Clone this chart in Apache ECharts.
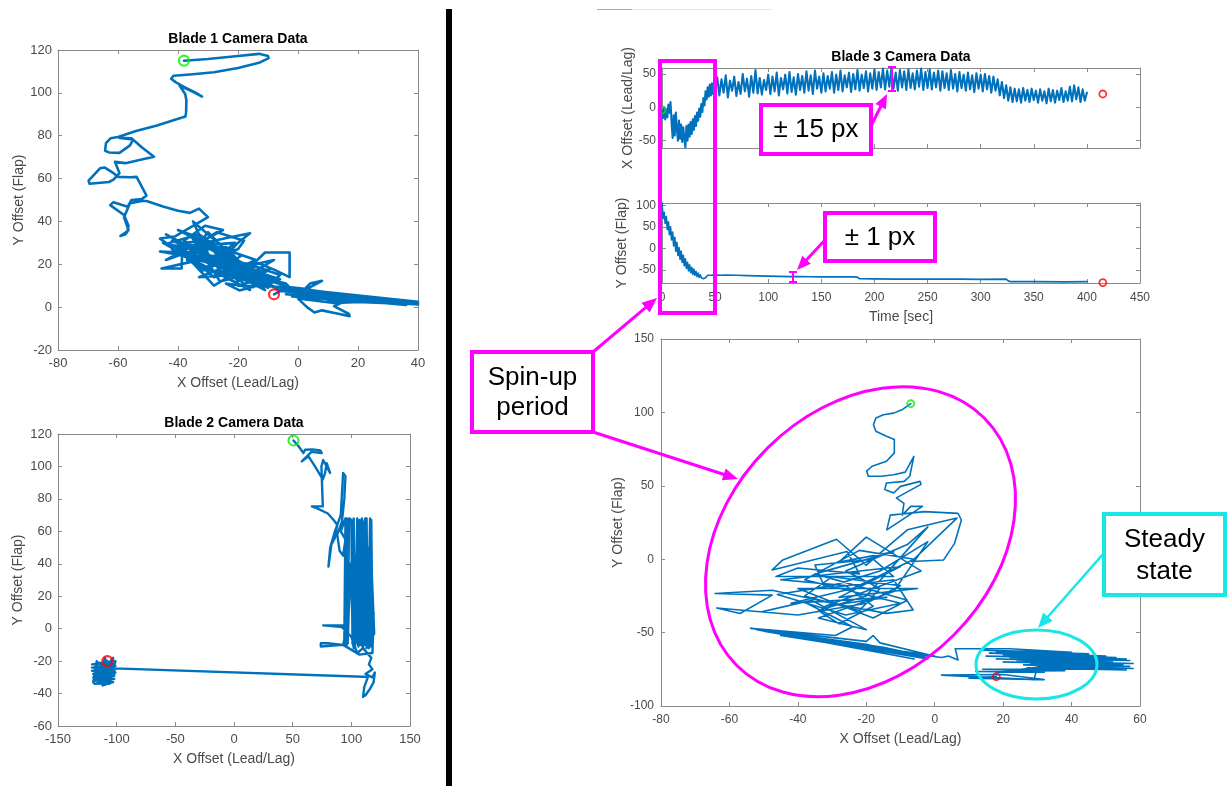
<!DOCTYPE html>
<html>
<head>
<meta charset="utf-8">
<title>Blade camera data</title>
<script src="https://cdn.jsdelivr.net/npm/echarts@6.0.0/dist/echarts.min.js"></script>
<style>
  body { margin: 0; background: #fff; }
  #main { width: 1228px; height: 786px; }
</style>
</head>
<body>
<div id="main"></div>
<script>
// ---------- data ----------
// Blade 1: [lead/lag, flap]
const blade1Path = [
  [-38,115],[-30,115.8],[-20,117.2],[-13,118.2],[-10,117.2],[-9.8,116.2],[-13,114],[-20,111.6],[-28,109.6],[-36,108.6],
  [-41.5,108],[-42.3,106.6],[-40.8,105],[-38,102.8],[-34,100],[-32,98.3],[-35,100.5],[-39.5,103.4],[-37.6,99.5],[-37.2,96.5],
  [-37.3,91],[-37.5,89],[-41,87.5],[-47,84.8],[-54,82.2],[-60,79.4],[-62.5,78.8],[-64,76.5],[-64.3,73],[-63,72.2],
  [-59.5,72],[-56,75.5],[-55,78.2],[-59.5,79],[-55.5,78.8],[-52,74.5],[-48,70.2],[-52.5,68.8],[-57.5,67.2],[-61,67.8],
  [-59.5,62.5],[-61.5,59.5],[-63,58.4],[-69.5,57.6],[-69.8,59],[-66,64.8],[-64.5,65.2],[-61.5,62.5],[-60,60.8],[-56,60.6],
  [-53.8,60.8],[-50.5,52],[-52,50.5],[-55.5,50],[-56.8,46.8],[-61.5,49],[-62.6,47.6],[-58,43],[-56.5,38],[-56.8,35.5],
  [-59.2,33.2],[-57.5,34],[-56.5,36],[-58,42],[-56,48.5],[-52,49.6],[-50.5,49.5],[-45,47],[-40,45],
  [-36,44],[-33,46],[-30,42],[-41,33],[-46,32],[-43,29],[-35,28],[-27,35],[-18,31],[-20,27],
  [-36,21],[-45.5,18],[-38.8,18],[-38.5,30],[-30,31],[-22,23],[-33,34],[-44,29.5],[-40,26],[-28,22],
  [-15,20],[-11,25.5],[-2.8,25.5],[-2.8,14],[-8,17.5],[-15,21.5],[-21.5,17],[-28,14],[-33,20],[-41.5,26.5],
  [-33,29.5],[-23,32.5],[-16,34.5],[-20,30],[-27,20],[-32,17],[-36,26],[-24,28],[-19,24],[-25,18],
  [-30,23],[-38,31],[-31,38],[-25,36],[-44,22],[-28,30],[-40,36],[-20,22],[-35,40],[-30,25],
  [-46,26],[-22,20],[-33,14],[-12,16],[-26,26],[-42,31],[-18,18],[-30,35],[-37,22],[-24,14],
  [-35,32],[-14,22],[-28,10],[-40,28],[-21,30],[-31,18],[-16,12],[-9,18],[-26,12],[-36,34],
  [-22,25],[-11,8],[-33,24],[-17,15],[-45,30],[-27,16],[-8,22],[-20,12],[-29,28],[-14,10],
  [-44,34],[-10,9],[-40,30],[-6,8],[-36,33],[-12,12],[-42,27],[-8,12],[-30,28],[-4,10],
  [-38,24],[-16,8],[-26,22],[-6,13],
  [-19.5,7.8],[-24,11],[-15,9.3],[-10.6,13.2],[-4,11],[-1.7,7.6],[-10,10],[-17,12],[-22,16],[-14,19],
  [-6,15],[-9,11],[-13,13],[-20,10],[-4,9.5],[3,8.5],[8,12.3],[4,11],[2,8],[10,6],
  [25,3.5],[40,2],[15,5],[38,1.6],[2,7],[30,3],[-4,8.2],[22,4],[40,1.5],[16,3],
  [12,0.5],[17,-3.2],[17.2,-4.2],[13,-3],[8,-1.5],[5.5,-2.5],[3,0],[0,4],[12,2],[28,2.8],
  [40,1.8],[20,3.5],[5,5.5],[35,2.2],[-2,7],[36,2],[5,6],[40,1.5],[8,4],[25,2.5],
  [0,6],[38,2],[-6,9],[34,2.5],[4,8],[40,1.2],[-2,5],[30,1.8],[10,3],[40,2.5],
  [6,7.5],[24,3.2],[-4,6],[36,1],[12,5.5],[40,2],[-6,7.5],[-8,6]
];
const blade1Start = [-38, 115];
const blade1End = [-8, 6];

// Blade 2: [lead/lag, flap]
const blade2Path = [
  [50.7,116],[55,112.4],[59.2,108.3],[60.6,110.3],[67,110.5],[73.4,109.9],[74.8,108.3],[66,109],[57.8,103.1],[63.5,106.2],
  [69,100],[75.7,92],[77.6,95.9],[79,102],[81.9,96],[76,104],[74.5,100],[75.7,75.4],[66.3,75.4],[70,74.5],
  [80,71],[84.7,67.1],[88,64],[86,56],[83,52],[81.9,52.7],[80.5,38.3],[82,50],[86,60],[91,70],
  [93,96],[95,94],[94,80],[92,66],[88,58],[90,48],[93,45],[95,55],[91,60],[95,68],
  [94,68],[94,-10],[96,-10],[96,68],[97,68],[97,-9],[98,-10],[98,68],[100,67],[101,-9],
  [102,-11],[102,68],[103,68],[103,-11],[105,68],[104,-6],[106,-11],[107,67],[108,68],[107,-10],
  [109,68],[108,-8],[110,-12],[111,66],[112,68],[112,-10],[113,-9],[113,68],[114,68],[114,-9],
  [116,68],[115,-7],[117,-11],[117,67],[118.5,66],[118,-5],[119.5,-3],[116,60],[113,-12],[111,55],
  [108,-10],[106,62],[102,-12],[99,40],[97,-8],[95,30],[100,20],[104,45],[101,10],[108,58],
  [110,20],[114,50],[112,0],[117,30],[115,-12],[119,10],[118,-15],[107,-16],[93,-10],[80,-9],
  [74,-9],[74,-11],[75,-10],[93,-10],[97,2],[90,2],[76,2],[92,1],[100,-5],[105,-15],
  [110,-12],[117,-18],[115,-22],[118,-25],[112,-28],[118,-30],[120,-27],[119,-33],[116,-37],[112,-41],
  [110,-42],[111,-36],[114,-30],[110,-29.6],[-102,-24.5],[-106,-24],
  [-121,-24],[-101,-23],[-121,-26],[-101,-25],[-120,-28],[-101,-27],[-120,-30],[-102,-29],[-119,-32],[-102,-31],
  [-119,-34],[-103,-33],[-112,-35],[-110,-18],[-115,-34],[-117,-20],[-120,-33],[-103,-18],[-106,-34],[-101,-20],
  [-121,-22],[-102,-22],[-116,-21],[-119,-29],[-111,-34],[-102,-28],[-104,-20],[-113,-22],[-118,-30],[-108,-31],
  [-103,-25],[-110,-19],[-108,-20]
];
const blade2Start = [50.7, 116];
const blade2End = [-108, -20];

// Blade 3 lead/lag vs time: [time s, offset]
const blade3LeadLag = [
  [0,-4],[1,-16],[2,0],[3,-18],[4,-3],[5,-15],[6,4],[7,-8],[8,8],[9,-22],[10,-46],[11,-12],[12,-42],[13,-8],[14,-32],
  [15,-50],[16,-20],[17,-47],[18,-26],[19,-52],[20,-30],[21,-47],[22,-60],[23,-28],[24,-50],[25,-26],[26,-44],[27,-22],
  [28,-40],[29,-18],[30,-34],[31,-13],[32,-28],[33,-8],[34,-20],[35,-2],[36,-14],[37,5],[38,-7],[39,14],[40,3],
  [41,24],[42,12],[43,30],[44,16],[45,34],[46,18],[47,36],[48,20],[49,32],[50,22],
  [52,45],[54,18],[56,42],[58,22],[60,48],[62,15],[64,40],[66,25],[68,46],[70,17],[72,38],[74,20],[76,50],[78,24],
  [80,43],[82,16],[84,47],[86,22],[88,56],[90,21],[92,44],[94,19],[96,41],[98,26],[100,49],
  [102,20],[104,46],[106,24],[108,52],[110,18],[112,44],[114,27],[116,49],[118,21],[120,53],[122,23],[124,45],[126,19],
  [128,50],[130,26],[132,47],[134,22],[136,54],[138,25],[140,48],[142,20],[144,55],[146,28],[148,46],[150,22],
  [152,51],[154,24],[156,47],[158,28],[160,53],[162,22],[164,49],[166,26],[168,55],[170,24],[172,48],[174,30],[176,52],
  [178,23],[180,50],[182,27],[184,56],[186,25],[188,49],[190,29],[192,54],[194,24],[196,51],[198,28],[200,57],
  [202,26],[204,53],[206,30],[208,58],[210,27],[212,55],[214,31],[216,59],[218,28],[220,52],[222,25],[224,56],[226,30],
  [228,54],[230,26],[232,57],[234,29],[236,51],[238,27],[240,55],[242,31],[244,58],[246,26],[248,53],[250,29],
  [252,57],[254,27],[256,52],[258,30],[260,55],[262,25],[264,54],[266,29],[268,51],[270,26],[272,56],[274,28],[276,50],
  [278,24],[280,53],[282,29],[284,49],[286,25],[288,52],[290,27],[292,48],[294,23],[296,51],[298,28],[300,49],
  [302,24],[304,50],[306,27],[308,47],[310,22],[312,46],[314,25],[316,42],[318,18],[320,38],[322,14],[324,33],[326,10],
  [328,30],[330,8],[332,28],[334,9],[336,27],[338,7],[340,29],[342,10],[344,26],[346,8],[348,28],[350,11],
  [352,25],[354,7],[356,27],[358,10],[360,24],[362,6],[364,28],[366,9],[368,26],[370,7],[372,25],[374,11],[376,29],
  [378,8],[380,24],[382,10],[384,31],[386,9],[388,33],[390,12],[392,30],[394,8],[396,27],[398,10],[400,22]
];
// Blade 3 flap vs time: [time s, offset]
const blade3Flap = [
  [0,106],[1,70],[2,84],[3,58],[4,74],[5,44],[6,62],[7,32],[8,50],[9,20],[10,38],[11,6],[12,26],[13,-6],[14,14],
  [15,-16],[16,2],[17,-25],[18,-6],[19,-32],[20,-16],[21,-40],[22,-24],[23,-46],[24,-32],[25,-52],[26,-38],[27,-56],
  [28,-44],[29,-60],[30,-48],[31,-62],[32,-53],[33,-65],[34,-57],[35,-67],[36,-61],[37,-68],[38,-65],[39,-70],[40,-72],
  [41,-68],[42,-64],[43,-62],[44,-61],[46,-62],[50,-61],[55,-62],[60,-61.5],[70,-62],[80,-63],[90,-63.5],[100,-64],
  [110,-64.5],[120,-65],[130,-65],[140,-65.5],[150,-66],[160,-66],[170,-66],[180,-66],[184,-66.5],[186,-70],[200,-70.5],
  [220,-71],[250,-71],[280,-71],[300,-71.5],[324,-71],[326,-75],[328,-77],[350,-77],[380,-77.5],[400,-77]
];
const blade3TimeStart = [[0,-4],[0,106]];
const blade3TimeEnd = [[415,20],[415,-79]];

// Blade 3: [lead/lag, flap]
const blade3Path = [
  [-7,106],[-9.4,102],[-12,99.5],[-15,98.4],[-17.2,96.2],[-17.9,91.6],[-17.2,87.1],[-14.1,83.7],[-11.8,81.5],[-11.8,72.4],
  [-14.1,66.7],[-18.3,63.3],[-19.9,60],[-19.4,56.5],[-15.7,56.5],[-12,57.5],[-8.6,59.3],[-6.1,70],[-7.3,56.5],[-8.9,53],
  [-14.1,51.9],[-14.6,47.4],[-12,45.1],[-10,49.6],[-4.3,53],[-4,51],[-6.8,47.4],[-11.2,41.8],[-9,38],[-9.5,30],
  [-7,36],[-3.6,36],[-14,20],[-13,30],[-3,32.4],[6.8,31.2],[7.8,26.7],[5.8,10.8],[2.6,-0.5],[-6.8,-1.6],
  [6.5,28],[-8,20],[-14,8],[-20,-4],[-28.7,13.6],[-44.4,-0.5],[-47.5,-7.3],[-25.6,5.2],[-22,-10],[-40,-6],
  [-46.4,-11.8],[-12,-11.8],[-18,0],[-35,-4],[-32,-20],[-12,-14],[-6.3,-34.6],[-14.1,-36.9],[-30,-30],[-47.5,-21.1],
  [-64.2,-23.4],[-47.5,-24.5],[-56.9,-37],[-63.7,-33.2],[-40,-38],[-20,-30],[-10,-18],[-30,-12],[-38,-25],[-22,-35],
  [-16,-20],[-26,-8],[-16,2],[-8,10],[-2,22],[-20,-25],[-34,-35],[-28,-44],[-18,-32],[-26,-18],
  [-45,-14],[-10,-5],[-28,-26],[-5,-20],[-40,-20],[-18,-40],[-8,-28],[-35,-10],[-12,5],[-28,-2],
  [-20,15],[-4,-8],[-32,-32],[-14,-26],[-42,-30],[-24,-20],[-6,0],[-22,6],[-38,-14],[-10,-30],
  [-26,-38],[-46,-24],[-30,-18],[-16,-8],[-2,12],[-12,-22],[-34,-40],[-20,-48],
  [-36,-28],[-50.6,-35.9],[-38.1,-29.1],[-24,-46],[-29,-52],[-53.8,-47.1],[-20,-56],[-18,-52],[-16,-57],[-1.5,-65.3],
  [-40,-52.8],[-30,-56],[-5,-66],[-35,-55],[-45,-50],[-15,-60],[-3,-66],[-42,-51],[-10,-63],[-25,-58],
  [-2,-67],[-38,-53],[-8,-64],[-50,-49],[-4,-67],[-45,-52],[0,-66],[-40,-53],[-6,-68],[-52,-48],
  [-20,-58],[-2,-68],[-30,-57],[2,-67],[4,-66],[6.8,-68.6],[6,-61],
  [22,-61],[40,-63.5],[14,-62],[45,-64.5],[18,-63],[50,-66],[16,-64],[53,-67],[20,-65],[56,-68],
  [15,-66],[48,-67.5],[22,-67],[57,-69],[18,-68],[52,-70],[24,-69],[58,-71],[20,-70],[55,-72],
  [28,-71],[57,-73],[26,-72],[58,-74.5],[30,-73],[56,-75.5],[27,-74],[45,-75],[14,-75],[38,-76],
  [12,-76.5],[32,-77],[18,-77],[36,-72],[42,-68],[30,-66],[46,-70],[34,-65],[44,-73],[25,-63],
  [38,-70],[30,-74],[29,-82],[2,-79],[20,-78.5],[32,-82],[10,-81],[18,-80]
];
const blade3Start = [-7, 106];
const blade3End = [18, -80];

// ---------- chart ----------
const FONT = '"Liberation Sans", Arial, sans-serif';
const AX = '#8a8a8a';
const LBL = '#4a4a4a';
const BLUE = '#0072BD';
const MAG = '#ff00ff';
const CYAN = '#19e6e6';

const grids = [
  { left: 58, top: 50, width: 360, height: 300 },
  { left: 58, top: 434, width: 352, height: 292 },
  { left: 662, top: 68, width: 478, height: 80 },
  { left: 662, top: 203, width: 478, height: 80 },
  { left: 661, top: 339, width: 479, height: 367 }
];

const xAxes = [], yAxes = [];
function addAxes(gi, xo, yo, fs) {
  const line = { show: true, onZero: false, lineStyle: { color: AX, width: 1 } };
  const tick = (cv) => ({ show: true, inside: true, length: 4, lineStyle: { color: AX }, customValues: cv });
  const nameStyle = { color: LBL, fontSize: 14, fontFamily: FONT };
  xAxes.push({
    type: 'value', gridIndex: gi, position: 'bottom', min: xo.min, max: xo.max, interval: xo.interval,
    axisLine: line, axisTick: tick(), splitLine: { show: false },
    axisLabel: { show: xo.labels !== false, color: LBL, fontSize: fs, fontFamily: FONT, margin: xo.margin || 7 },
    name: xo.name || '', nameLocation: 'middle', nameGap: xo.gap || 25, nameTextStyle: nameStyle
  });
  xAxes.push({
    type: 'value', gridIndex: gi, position: 'top', min: xo.min, max: xo.max, interval: xo.interval,
    axisLine: line, axisTick: tick(), splitLine: { show: false }, axisLabel: { show: false }
  });
  yAxes.push({
    type: 'value', gridIndex: gi, position: 'left', min: yo.min, max: yo.max, interval: yo.interval,
    axisLine: line, axisTick: tick(yo.custom), splitLine: { show: false },
    axisLabel: { color: LBL, fontSize: fs, fontFamily: FONT, margin: yo.margin || 6, customValues: yo.custom },
    name: yo.name, nameLocation: 'middle', nameGap: yo.gap, nameTextStyle: nameStyle
  });
  yAxes.push({
    type: 'value', gridIndex: gi, position: 'right', min: yo.min, max: yo.max, interval: yo.interval,
    axisLine: line, axisTick: tick(yo.custom), splitLine: { show: false }, axisLabel: { show: false }
  });
}

addAxes(0, { min: -80, max: 40, interval: 20, name: 'X Offset (Lead/Lag)', gap: 26 },
           { min: -20, max: 120, interval: 20, name: 'Y Offset (Flap)', gap: 32 }, 13);
addAxes(1, { min: -150, max: 150, interval: 50, name: 'X Offset (Lead/Lag)', gap: 26 },
           { min: -60, max: 120, interval: 20, name: 'Y Offset (Flap)', gap: 33 }, 13);
addAxes(2, { min: 0, max: 450, interval: 50, labels: false },
           { min: -61, max: 59, custom: [-50, 0, 50], name: 'X Offset (Lead/Lag)', gap: 27 }, 12);
addAxes(3, { min: 0, max: 450, interval: 50, name: 'Time [sec]', gap: 27, margin: 9 },
           { min: -80, max: 105.5, custom: [-50, 0, 50, 100], name: 'Y Offset (Flap)', gap: 33 }, 12);
addAxes(4, { min: -80, max: 60, interval: 20, name: 'X Offset (Lead/Lag)', gap: 26, margin: 8 },
           { min: -100, max: 150, interval: 50, name: 'Y Offset (Flap)', gap: 36, margin: 7 }, 12);

function pathSeries(gi, data, w) {
  return {
    type: 'line', xAxisIndex: gi * 2, yAxisIndex: gi * 2, data: data,
    showSymbol: false, symbol: 'none', silent: true,
    lineStyle: { color: BLUE, width: w, cap: 'round', join: 'round' }, z: 2
  };
}
function ringSeries(gi, data, color, size, bw) {
  return {
    type: 'scatter', xAxisIndex: gi * 2, yAxisIndex: gi * 2, data: data,
    symbol: 'circle', symbolSize: size, silent: true, z: 5,
    itemStyle: { color: 'rgba(255,255,255,0)', borderColor: color, borderWidth: bw }
  };
}

const series = [
  pathSeries(0, blade1Path, 2.6),
  ringSeries(0, [blade1Start], '#00ee00', 10, 2.2),
  ringSeries(0, [blade1End], '#ff0000', 10, 2.2),
  pathSeries(1, blade2Path, 2.4),
  ringSeries(1, [blade2Start], '#00ee00', 10, 2.2),
  ringSeries(1, [blade2End], '#ff0000', 10, 2.2),
  pathSeries(2, blade3LeadLag, 2.1),
  ringSeries(2, [blade3TimeStart[0]], '#00ee00', 7, 1.8),
  ringSeries(2, [blade3TimeEnd[0]], '#ff0000', 7, 1.8),
  pathSeries(3, blade3Flap, 1.7),
  ringSeries(3, [blade3TimeStart[1]], '#00ee00', 7, 1.8),
  ringSeries(3, [blade3TimeEnd[1]], '#ff0000', 7, 1.8),
  pathSeries(4, blade3Path, 1.6),
  ringSeries(4, [blade3Start], '#00ee00', 7, 1.8),
  ringSeries(4, [blade3End], '#ff0000', 7, 1.8)
];

// ---------- annotations ----------
function txt(x, y, text, font, lh) {
  return { type: 'text', z: 102, x: x, y: y,
    style: { text: text, font: font, fill: '#000', align: 'center', verticalAlign: 'middle',
             textAlign: 'center', textVerticalAlign: 'middle', lineHeight: lh || 30 } };
}
function box(x, y, w, h, color) {
  return { type: 'rect', z: 100, shape: { x: x, y: y, width: w, height: h },
    style: { fill: '#fff', stroke: color, lineWidth: 4 } };
}
function arrow(x1, y1, x2, y2, color, lw, head) {
  const dx = x2 - x1, dy = y2 - y1, L = Math.hypot(dx, dy), ux = dx / L, uy = dy / L;
  const bx = x2 - ux * head, by = y2 - uy * head, px = -uy * head * 0.42, py = ux * head * 0.42;
  return [
    { type: 'line', z: 101, shape: { x1: x1, y1: y1, x2: bx + ux * 2, y2: by + uy * 2 }, style: { stroke: color, lineWidth: lw } },
    { type: 'polygon', z: 101, shape: { points: [[x2, y2], [bx + px, by + py], [bx - px, by - py]] }, style: { fill: color } }
  ];
}
function ibeam(x, y1, y2, color) {
  const s = { stroke: color, lineWidth: 2 };
  return [
    { type: 'line', z: 101, shape: { x1: x, y1: y1, x2: x, y2: y2 }, style: s },
    { type: 'line', z: 101, shape: { x1: x - 4, y1: y1, x2: x + 4, y2: y1 }, style: s },
    { type: 'line', z: 101, shape: { x1: x - 4, y1: y2, x2: x + 4, y2: y2 }, style: s }
  ];
}
const titleFont = 'bold 14px ' + FONT;
const boxFont = '26px ' + FONT;

const graphics = [
  { type: 'rect', z: 100, shape: { x: 446, y: 9, width: 6, height: 777 }, style: { fill: '#000' } },
  { type: 'line', z: 100, shape: { x1: 597, y1: 9.5, x2: 632, y2: 9.5 }, style: { stroke: '#d9a463', lineWidth: 1 } },
  { type: 'line', z: 100, shape: { x1: 632, y1: 9.5, x2: 772, y2: 9.5 }, style: { stroke: '#e8e8e8', lineWidth: 1 } },
  txt(238, 39, 'Blade 1 Camera Data', titleFont),
  txt(234, 423, 'Blade 2 Camera Data', titleFont),
  txt(901, 57, 'Blade 3 Camera Data', titleFont),
  // spin-up window on the time traces
  { type: 'rect', z: 100, shape: { x: 660, y: 61, width: 55, height: 252 }, style: { fill: 'none', stroke: MAG, lineWidth: 4 } },
  // spin-up period ellipse
  { type: 'ellipse', z: 100, x: 860.5, y: 541.7, rotation: Math.PI / 4,
    shape: { cx: 0, cy: 0, rx: 175, ry: 132 }, style: { fill: 'none', stroke: MAG, lineWidth: 3 } },
  // steady-state ellipse
  { type: 'ellipse', z: 100, shape: { cx: 1036.5, cy: 664.5, rx: 60.5, ry: 34.5 }, style: { fill: 'none', stroke: CYAN, lineWidth: 3 } },
  ...arrow(593, 352, 657, 298, MAG, 3, 15),
  ...arrow(593, 432, 738, 479, MAG, 3, 15),
  ...arrow(870, 128, 887, 94, MAG, 3, 14),
  ...arrow(825, 240, 797, 270, MAG, 3, 14),
  ...arrow(1104, 553, 1038, 628, CYAN, 2.5, 15),
  ...ibeam(892, 67, 91, MAG),
  ...ibeam(793, 272, 282, MAG),
  box(472, 352, 121, 80, MAG),
  txt(532.5, 392.5, 'Spin-up\nperiod', boxFont, 30),
  box(761, 105, 110, 49, MAG),
  txt(816, 130, '\u00b1 15 px', boxFont),
  box(825, 213, 110, 48, MAG),
  txt(880, 238, '\u00b1 1 px', boxFont),
  box(1104, 514, 121, 81, CYAN),
  txt(1164.5, 555.5, 'Steady\nstate', boxFont, 32)
];

const chart = echarts.init(document.getElementById('main'), null, { renderer: 'canvas' });
chart.setOption({
  animation: false,
  backgroundColor: '#fff',
  grid: grids,
  xAxis: xAxes,
  yAxis: yAxes,
  series: series,
  graphic: { elements: graphics }
});
</script>
</body>
</html>
